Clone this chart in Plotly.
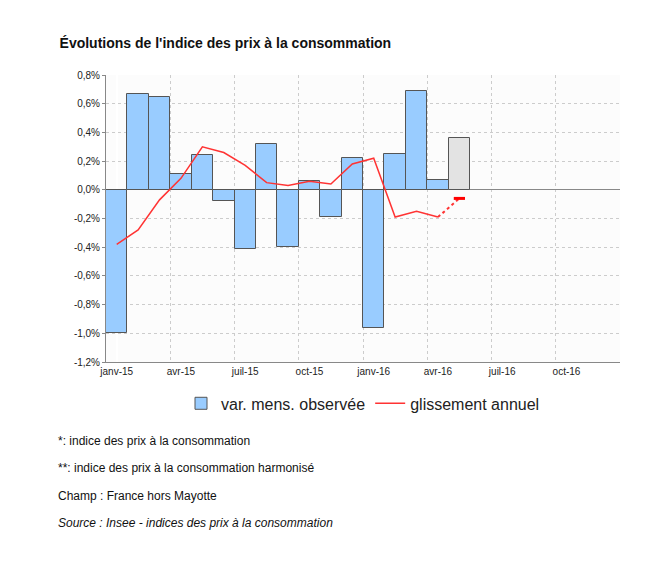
import plotly.graph_objects as go

months = list(range(17))
bar_vals = [-1.00, 0.67, 0.65, 0.11, 0.24, -0.08, -0.41, 0.32, -0.40, 0.06, -0.19, 0.22, -0.96, 0.25, 0.69, 0.07, 0.36]
bar_colors = ["#99ccff"] * 16 + ["#e3e3e3"]
line_x = list(range(16))
line_vals = [-0.38, -0.28, -0.07, 0.08, 0.30, 0.26, 0.17, 0.05, 0.03, 0.06, 0.04, 0.18, 0.22, -0.19, -0.15, -0.19]
est_x = [15, 16]
est_vals = [-0.19, -0.06]
tick_pos = [0, 3, 6, 9, 12, 15, 18, 21]
tick_text = ["janv-15", "avr-15", "juil-15", "oct-15", "janv-16", "avr-16", "juil-16", "oct-16"]
y_ticks = [0.8, 0.6, 0.4, 0.2, 0.0, -0.2, -0.4, -0.6, -0.8, -1.0, -1.2]
y_text = [f"{v:.1f}%".replace(".", ",") for v in y_ticks]

T, B, L, R = 67, 219, 98, 49
PH = 573 - T - B

fig = go.Figure()
fig.add_bar(x=months, y=bar_vals, width=1, marker=dict(color=bar_colors, line=dict(color="#555", width=1)),
            name="var. mens. observée")
fig.add_scatter(x=line_x, y=line_vals, mode="lines", line=dict(color="#ff3333", width=1.5), name="glissement annuel")
fig.add_scatter(x=est_x, y=est_vals, mode="lines", line=dict(color="#ff3333", width=2, dash="dot"), showlegend=False)
fig.add_scatter(x=[est_x[-1]], y=[est_vals[-1]], mode="markers",
                marker=dict(symbol="line-ew", size=8, line=dict(color="#ff0000", width=3)), showlegend=False)
fig.add_scatter(x=[-0.5, 23.5], y=[0, 0], xaxis="x2", mode="lines", line=dict(width=0), showlegend=False, hoverinfo="skip")

fig.update_layout(
    width=661, height=573, paper_bgcolor="white", plot_bgcolor="#fcfcfc",
    margin=dict(l=L, r=R, t=T, b=B),
    font=dict(family="Liberation Sans, Arial", color="#222"),
    bargap=0,
    title=dict(text="<b>Évolutions de l'indice des prix à la consommation</b>", x=0.078, xanchor="left",
               y=0.939, yanchor="middle", font=dict(size=14, color="#111")),
    xaxis=dict(range=[-0.5, 23.5], tickvals=tick_pos, ticktext=tick_text, showgrid=False,
               tickfont=dict(size=10), showline=True, linecolor="#888", zeroline=False),
    xaxis2=dict(range=[-0.5, 23.5], overlaying="x", tickvals=[2.5, 5.5, 8.5, 11.5, 14.5, 17.5, 20.5, 23.5],
                showticklabels=False, showgrid=True, gridcolor="#cccccc", griddash="dot", side="bottom"),
    yaxis=dict(range=[-1.2, 0.8], tickvals=y_ticks, ticktext=y_text, showgrid=True, gridcolor="#cccccc",
               griddash="dot", tickfont=dict(size=10), showline=True, linecolor="#888",
               zeroline=True, zerolinecolor="#888", zerolinewidth=1, ticks="outside", ticklen=3, tickcolor="#888"),
    legend=dict(orientation="h", x=0.5, xanchor="center", y=-0.085, yanchor="top", font=dict(size=16)),
)
notes = ["*: indice des prix à la consommation", "**: indice des prix à la consommation harmonisé",
         "Champ : France hors Mayotte", "<i>Source : Insee - indices des prix à la consommation</i>"]
for i, t in enumerate(notes):
    fig.add_annotation(text=t, xref="paper", yref="paper", x=-0.097, xanchor="left",
                       y=(573 - 433 - i * 27.3 - B) / PH, yanchor="middle", showarrow=False,
                       font=dict(size=12, color="#111"))
fig.write_html("out.html")
